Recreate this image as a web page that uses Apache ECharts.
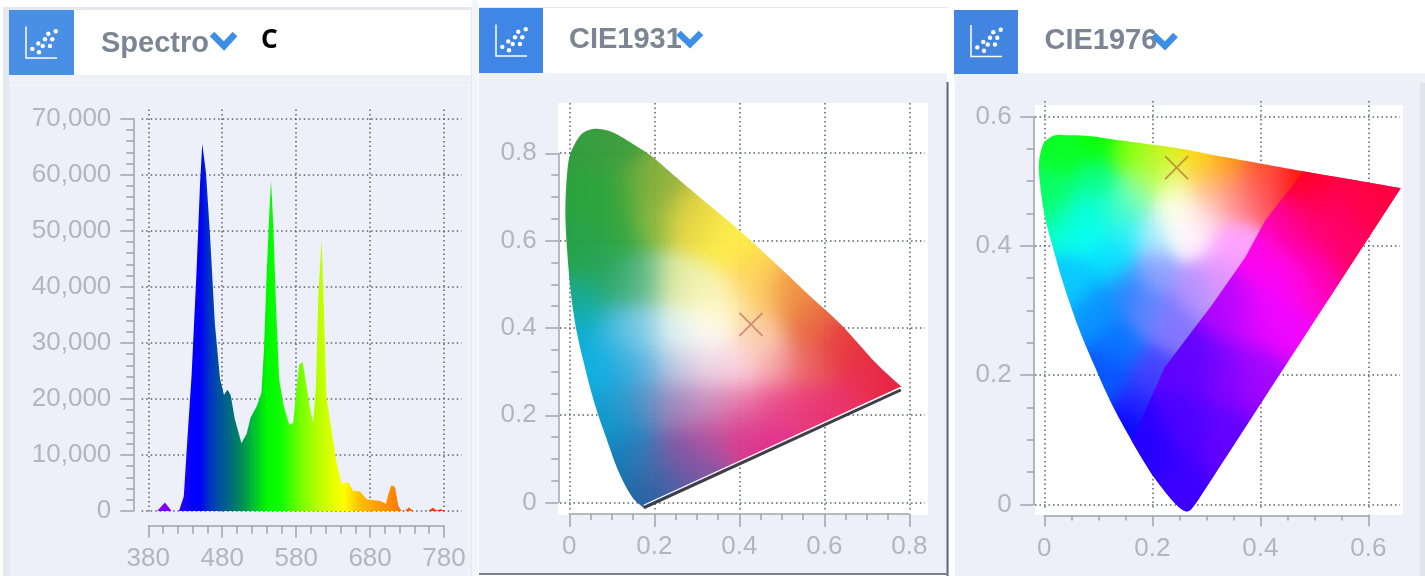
<!DOCTYPE html>
<html><head><meta charset="utf-8">
<style>html,body{margin:0;padding:0;background:#fff}#c{width:1425px;height:576px}</style>
<script src="https://cdn.jsdelivr.net/npm/echarts@6/dist/echarts.min.js"></script>
</head><body><div id="c"></div>
<script>
// ---- data ----
const spectroWavelengths = [380,392,402.5,411.5,421.5,428,433,438.6,445,450,453,458,463.5,470,477,482.4,487,491.4,497,506,513,518.4,526.6,533,536.5,540,543.7,546,549,552.7,557,562.6,570.7,576,580.7,584.3,588.8,593.3,598.7,603,606.8,610,614.5,617.7,621,628,634.8,641.5,650.6,657,666.4,675.4,693.4,701.5,704.7,709,713.7,718,722.7,727,732.7,737.6,758.8,764.7,770,775.5,780];
const spectroValues = [0,0,1500,0,0,2600,13100,24300,42000,58400,65500,60400,49200,33500,23600,20700,21650,20700,16400,12100,13800,16700,18700,21000,28900,42000,53100,59000,51200,36700,23600,19000,15400,15700,22300,26200,26600,23000,18400,15700,22300,38700,48600,35400,20300,14400,8500,4900,5100,3600,3500,2100,1800,1300,3000,4600,4300,1000,0,0,650,0,0,600,100,300,0];
const spectroTicksX = [380,480,580,680,780];
const spectroTicksY = [0,10000,20000,30000,40000,50000,60000,70000];
const spectroColours = [[380,'#8000ff'],[410,'#8000ff'],[425,'#2000ff'],[440,'#0000ff'],[450,'#0000f8'],[462,'#0030c8'],[475,'#0050a0'],[490,'#006a80'],[505,'#008858'],[520,'#00b838'],[540,'#00f800'],[560,'#10ff00'],[585,'#70ff00'],[610,'#b8ff00'],[632,'#e8ff00'],[645,'#ffff00'],[665,'#ffc000'],[690,'#ffa000'],[715,'#ff8000'],[740,'#ff5000'],[780,'#ff2000']];

const cie1931Locus = [[.174,-.011],[.147,.014],[.115,.073],[.088,.145],[.060,.225],[.037,.309],[.017,.393],[.004,.477],[-.004,.562],[-.009,.646],[-.008,.713],[-.002,.781],[.009,.814],[.029,.844],[.053,.855],[.076,.855],[.107,.846],[.147,.823],[.194,.793],[.249,.747],[.311,.696],[.398,.625],[.484,.549],[.562,.477],[.641,.406],[.719,.322],[.782,.265]];
const cie1931Edge = [[.175,-.012],[.780,.258]];
const cie1931EdgeLight = [[.175,-.006],[.780,.264]];
const cie1931Point = [[.4275,.408]];
const cie1931Shade = [[.04,.82,'#2a9838'],[.1,.82,'#369a34'],[.04,.7,'#20a032'],[.1,.7,'#24a032'],[.17,.72,'#64a834'],[.22,.72,'#96b034'],[.29,.66,'#d6c838'],[.2,.645,'#8cb838'],[.12,.62,'#26a234'],[.288,.645,'#e8d83c'],[.33,.63,'#f6e440'],[.358,.62,'#ffee42'],[.38,.6,'#ffee40'],[.02,.6,'#1c9f42'],[.06,.56,'#1ca04c'],[.249,.51,'#e0eaa0'],[.17,.51,'#5fb88a'],[.115,.51,'#25a565'],[.03,.46,'#0ca788'],[.03,.39,'#00aad8'],[.115,.393,'#3cb8e0'],[.17,.393,'#8ed0e8'],[.249,.393,'#e8f6f0'],[.327,.393,'#fffdf4'],[.374,.46,'#fff8c0'],[.31,.49,'#f8f4b0'],[.42,.53,'#fdd64a'],[.445,.477,'#fcc458'],[.52,.47,'#f0903a'],[.562,.41,'#e8643a'],[.64,.35,'#e63236'],[.72,.3,'#e72036'],[.77,.265,'#e6183a'],[.562,.31,'#e95c58'],[.484,.31,'#f5a4a4'],[.45,.39,'#fbd0a8'],[.405,.31,'#fdd8e0'],[.327,.31,'#f0d4e4'],[.249,.31,'#c0c8e4'],[.17,.31,'#5ab0dc'],[.115,.31,'#10a8e0'],[.05,.3,'#00aee0'],[.405,.225,'#e874a4'],[.484,.225,'#e84084'],[.562,.225,'#e83074'],[.68,.26,'#e82856'],[.63,.2,'#e82a68'],[.327,.225,'#c888bc'],[.249,.225,'#9a80b8'],[.17,.225,'#5a88c0'],[.115,.225,'#0f98d0'],[.08,.18,'#0098cc'],[.249,.115,'#8050a0'],[.327,.14,'#b8489a'],[.405,.157,'#d83088'],[.48,.14,'#e02886'],[.17,.098,'#3a70b0'],[.131,.14,'#0a80c0'],[.12,.08,'#0070b0'],[.165,.02,'#1a5aa0'],[.22,.05,'#385aa0'],[.3,.08,'#7050a0']];

const cie1976Locus = [[.660,.489],[.600,.498],[.495,.513],[.402,.527],[.310,.541],[.248,.551],[.186,.558],[.125,.565],[.081,.570],[.044,.571],[.020,.571],[.001,.561],[-.007,.544],[-.010,.524],[-.008,.496],[.001,.445],[.017,.394],[.035,.342],[.063,.274],[.094,.212],[.125,.155],[.162,.098],[.199,.047],[.236,.007],[.257,-.009],[.270,-.009],[.285,.007]];
const cie1976Purples = [[.162,.098],[.223,.212],[.31,.308],[.372,.382],[.409,.439],[.48,.515],[.600,.498],[.660,.489],[.285,.007],[.270,-.009],[.257,-.009],[.236,.007],[.199,.047]];
const cie1976Point = [[.245,.521]];
const cie1976Shade = [[.03,.55,'#00ff20'],[.1,.56,'#00ff00'],[.16,.545,'#80ff00'],[.22,.54,'#d0f000'],[.28,.535,'#ffd800'],[.34,.525,'#ffa000'],[.4,.515,'#ff5000'],[.46,.505,'#ff1000'],[.02,.48,'#00ff60'],[.05,.44,'#00ffc0'],[.07,.42,'#00ffff'],[.1,.45,'#00ffe0'],[.1,.5,'#00ff80'],[.06,.35,'#00c8ff'],[.1,.3,'#0090ff'],[.14,.25,'#0070ff'],[.12,.2,'#0050ff'],[.16,.12,'#0000ff'],[.16,.33,'#2080ff'],[.13,.38,'#00e0ff'],[.15,.42,'#20f0ff'],[.14,.46,'#40ffc0'],[.19,.3,'#6080ff'],[.2,.36,'#90a0ff'],[.2,.42,'#b0f0ff'],[.17,.48,'#90ffa0'],[.2,.52,'#b0ff40'],[.24,.5,'#f0ff90'],[.245,.46,'#ffffe0'],[.25,.44,'#ffffff'],[.28,.42,'#fff0ff'],[.3,.46,'#ffd0d0'],[.3,.5,'#ffc060'],[.34,.48,'#ff9090'],[.38,.49,'#ff7080'],[.42,.5,'#ff4060'],[.34,.4,'#ffa0ff'],[.32,.35,'#e090ff'],[.28,.33,'#b090ff'],[.24,.28,'#8070ff'],[.2,.2,'#4040ff'],[.18,.16,'#2020ff']];
const cie1976PurpleShade = [[.2,.08,'#2800ff'],[.25,.03,'#4000ff'],[.27,.12,'#5000ff'],[.33,.1,'#6800ff'],[.28,.22,'#6000ff'],[.33,.2,'#8000ff'],[.39,.2,'#a000ff'],[.34,.3,'#b000ff'],[.39,.3,'#e000ff'],[.44,.28,'#f000ff'],[.44,.34,'#ff00ff'],[.41,.38,'#ff00f0'],[.49,.35,'#ff00c0'],[.45,.42,'#ff00a0'],[.5,.44,'#ff0080'],[.56,.41,'#ff0070'],[.52,.48,'#ff0050'],[.6,.46,'#ff0050'],[.49,.505,'#ff0020'],[.63,.48,'#ff0040']];

const cie1931Ticks = [0,.2,.4,.6,.8];
const cie1976Ticks = [0,.2,.4,.6];
const titles = ['Spectro','CIE1931','CIE1976'];
const marker = 'C';

// ---- styles ----
const AXIS = '#9ea3ae', LABEL = '#b1b5bf', DOT = '#5a606c', FONT = '"Liberation Sans", Arial, sans-serif';

function hex(c){return [1,3,5].map(i=>parseInt(c.substr(i,2),16));}
function gamut(shade, b, sigma){
  const [x0,x1,y0,y1]=b, n = 140, cv = document.createElement('canvas'); cv.width = n; cv.height = n;
  const ctx = cv.getContext('2d'), im = ctx.createImageData(n,n);
  const s = shade.map(a=>[a[0],a[1],hex(a[2])]);
  const q = 2*sigma*sigma;
  for(let j=0;j<n;j++) for(let i=0;i<n;i++){
    const x = x0+(i+.5)/n*(x1-x0), y = y1-(j+.5)/n*(y1-y0);
    let w=1e-40,r=0,g=0,bl=0;
    for(const a of s){
      const k=Math.exp(-((x-a[0])*(x-a[0])+(y-a[1])*(y-a[1]))/q);
      w+=k;r+=k*a[2][0];g+=k*a[2][1];bl+=k*a[2][2];
    }
    const o=(j*n+i)*4; im.data[o]=r/w;im.data[o+1]=g/w;im.data[o+2]=bl/w;im.data[o+3]=255;
  }
  ctx.putImageData(im,0,0);
  return {cv,x0,x1,y0,y1};
}
// rounds the drawn outline of the clip only; the read points stay as they are
function rounded(pts){
  const out=[];
  for(let i=0;i<pts.length-1;i++){
    const p0=pts[Math.max(i-1,0)],p1=pts[i],p2=pts[i+1],p3=pts[Math.min(i+2,pts.length-1)];
    for(let k=0;k<8;k++){
      const t=k/8,t2=t*t,t3=t2*t;
      out.push([0,1].map(d=>.5*(2*p1[d]+(p2[d]-p0[d])*t+(2*p0[d]-5*p1[d]+4*p2[d]-p3[d])*t2+(3*p1[d]-p0[d]-3*p2[d]+p3[d])*t3)));
    }
  }
  out.push(pts[pts.length-1]);
  return out;
}
function gamutSeries(locus, shade, b, sigma, idx, op, smooth, z){
  const g = gamut(shade,b,sigma);
  return {type:'custom',xAxisIndex:idx,yAxisIndex:idx,data:locus,z:z||2,silent:true,
    renderItem(params,api){
      if(params.dataIndex!==0) return null;
      const a=api.coord([g.x0,g.y1]), c=api.coord([g.x1,g.y0]);
      const outline=(smooth?rounded(locus):locus).map(p=>api.coord(p));
      return {type:'image',style:{image:g.cv,x:a[0],y:a[1],width:c[0]-a[0],height:c[1]-a[1],opacity:op},
        clipPath:{type:'polygon',shape:{points:outline}}};
    }};
}
function mainX(i,cfg){return Object.assign({type:'value',gridIndex:i,position:'bottom',axisLine:{show:true,onZero:false,lineStyle:{color:AXIS,width:1.5}},
  axisTick:{show:true,length:cfg.maj,lineStyle:{color:AXIS,width:1.5}},minorTick:{show:true,splitNumber:cfg.minorN,length:cfg.min,lineStyle:{color:AXIS,width:1.5}},
  splitLine:{show:false},minorSplitLine:{show:false},
  axisLabel:{color:LABEL,fontSize:26,fontFamily:FONT,margin:cfg.margin,verticalAlign:'top',hideOverlap:false,showMinLabel:true,showMaxLabel:true,formatter:cfg.fmt}},cfg.ext);}
function mainY(i,cfg){return Object.assign({type:'value',gridIndex:i,position:'left',axisLine:{show:true,onZero:false,lineStyle:{color:AXIS,width:1.5}},
  axisTick:{show:true,length:cfg.maj,lineStyle:{color:AXIS,width:1.5}},minorTick:{show:true,splitNumber:cfg.minorN,length:cfg.min,lineStyle:{color:AXIS,width:1.5}},
  splitLine:{show:false},minorSplitLine:{show:false},
  axisLabel:{color:LABEL,fontSize:26,fontFamily:FONT,margin:cfg.margin,padding:[4,0,0,0],hideOverlap:false,showMinLabel:true,showMaxLabel:true,formatter:cfg.fmt}},cfg.ext);}
function overlay(kind,i,min,max,vals){return {type:'value',gridIndex:i,min,max,position:kind==='x'?'bottom':'left',
  axisLine:{show:false},axisLabel:{show:false,customValues:vals},axisTick:{show:false,customValues:vals},
  splitLine:{show:true,showMinLine:true,showMaxLine:true,lineStyle:{type:[1.5,3],color:DOT,width:1.5}}};}
function num(v){return v===0?'0':String(+v.toFixed(1));}

const grid = [
 {left:148.3,top:118.7,width:295.7,height:392.3},
 {left:141.7,top:109.6,width:320,height:403.4},
 {left:569.3,top:153.3,width:340,height:349.3},
 {left:560,top:103,width:365,height:408},
 {left:1044.3,top:116.5,width:324,height:387.9},
 {left:1035,top:101,width:365,height:408}
];
const spectroShift = spectroTicksX[0];
const spectroSpan = spectroTicksX[spectroTicksX.length-1]-spectroShift;

const xAxis = [
 mainX(0,{maj:12,min:8,minorN:5,margin:20.5,fmt:v=>String(v+spectroShift),ext:{min:0,max:spectroSpan,interval:100,offset:14.7}}),
 overlay('x',1,-8.9,423.9,spectroTicksX.map(v=>v-spectroShift)),
 mainX(2,{maj:13,min:6,minorN:4,margin:19.5,fmt:num,ext:{min:0,max:.8,interval:.2,offset:11.4}}),
 overlay('x',3,-.022,.837,cie1931Ticks),
 mainX(4,{maj:11,min:5,minorN:4,margin:20.5,fmt:num,ext:{min:0,max:.6,interval:.2,offset:11}}),
 overlay('x',5,-.0172,.6587,cie1976Ticks)
];
const yAxis = [
 mainY(0,{maj:13,min:7,minorN:5,margin:22,fmt:v=>v.toLocaleString('en-US'),ext:{min:0,max:70000,interval:10000,offset:15}}),
 overlay('y',1,-357,71626,spectroTicksY),
 mainY(2,{maj:13,min:7,minorN:4,margin:21.6,fmt:num,ext:{min:0,max:.8,interval:.2,offset:11}}),
 overlay('y',3,-.0195,.915,cie1931Ticks),
 mainY(4,{maj:13.5,min:7,minorN:4,margin:22,fmt:num,ext:{min:0,max:.6,interval:.2,offset:10.6}}),
 overlay('y',5,-.0071,.624,cie1976Ticks)
];

const cross = (data,idx,col)=>({type:'scatter',xAxisIndex:idx,yAxisIndex:idx,data,symbol:'path://M0 0L10 10M10 0L0 10',symbolSize:23,z:5,silent:true,clip:false,
  itemStyle:{color:'none',borderColor:col,borderWidth:1.8}});
const stub = (data,idx)=>({type:'line',xAxisIndex:idx,yAxisIndex:idx,data,showSymbol:false,symbol:'none',clip:false,silent:true,z:1,lineStyle:{color:AXIS,width:1.5}});

const series = [
 {type:'line',xAxisIndex:0,yAxisIndex:0,data:spectroWavelengths.map((w,i)=>[w-spectroShift,spectroValues[i]]),showSymbol:false,symbol:'none',silent:true,z:2,
  lineStyle:{width:0},
  areaStyle:{opacity:1,color:new echarts.graphic.LinearGradient(0,0,1,0,spectroColours.map(c=>({offset:(c[0]-spectroShift)/spectroSpan,color:c[1]})))}},
 gamutSeries(cie1931Locus,cie1931Shade,[-.03,.8,-.03,.88],.04,2,.95,true),
 {type:'line',xAxisIndex:2,yAxisIndex:2,data:cie1931Edge,showSymbol:false,symbol:'none',clip:false,silent:true,z:3,lineStyle:{color:'#3c3f48',width:3}},
 {type:'line',xAxisIndex:2,yAxisIndex:2,data:cie1931EdgeLight,showSymbol:false,symbol:'none',clip:false,silent:true,z:3,lineStyle:{color:'#fff',width:1.2}},
 cross(cie1931Point,2,'#c9746e'),
 stub([[-.0259,.8],[-.0259,.85],[-.0424,.85],[-.0259,.85],[-.0259,.9]],2),
 gamutSeries(cie1976Locus,cie1976Shade,[-.03,.68,-.03,.6],.025,4,.96,true),
 gamutSeries(cie1976Purples,cie1976PurpleShade,[.1,.68,-.03,.6],.03,4,.96,false,3),
 cross(cie1976Point,4,'#b5803a'),
 stub([[.6,-.017],[.649,-.017]],4)
];

// ---- page furniture ----
const R=(x,y,w,h,fill)=>({type:'rect',shape:{x,y,width:w,height:h},style:{fill},z:-10,silent:true});
const T=(x,y,text,font,fill)=>({type:'text',style:{x,y,text,font,fill,textVerticalAlign:'middle'},z:-5,silent:true});
const V=(pts)=>({type:'polyline',shape:{points:pts},style:{stroke:'#3d8ee6',fill:'none',lineWidth:6.5},z:-5,silent:true});
function icon(ox,oy){
  const dots=[[46.7,21.3],[39.3,23.8],[36,29.3],[43.3,29.3],[29.3,33.4],[33.7,36],[41,36],[23.3,38.9],[30,42.2]];
  return [{type:'polyline',shape:{points:[[ox+17,oy+16.5],[ox+17,oy+48],[ox+48,oy+48]]},style:{stroke:'#fff',fill:'none',lineWidth:1.5},z:-5,silent:true}]
   .concat(dots.map(d=>({type:'circle',shape:{cx:ox+d[0],cy:oy+d[1],r:2.2},style:{fill:'#fff'},z:-5,silent:true})));
}
const BOLD='bold 29px "Liberation Sans", Arial, sans-serif', TITLE='#7b8594';
const elements=[
 R(0,0,1425,576,'#ffffff'),
 // panel 1
 R(3,7,469,569,'#e3e8f3'),R(74,10,397,65,'#ffffff'),R(9,10,65,65,'#4a8fe6'),R(9,75,462,10,'#eef1f8'),R(10,85,461,1,'#f7f8fc'),R(10,86,461,490,'#edf0f8'),
 R(472,0,6,576,'#f3f5fb'),
 // panel 2
 R(479,7,469,1,'#e3e8f3'),R(543,8,404,65,'#ffffff'),R(479,8,64,65,'#3f86e6'),R(479,73,468,9,'#eef1f8'),R(479,82,467,491,'#edf0f8'),
 R(558,103,370,412,'#ffffff'),R(946.5,82,2,494,'#5c6270'),R(479,573,469,2,'#7a808c'),
 // panel 3
 R(954,73,471,10,'#eef1f8'),R(1018,9,407,64,'#ffffff'),R(954,10,64,64,'#4285e0'),R(955,83,465,493,'#edf0f8'),R(1420,83,5,493,'#dfe3ea'),
 R(1035,105,368,410,'#ffffff'),
 // titles
 T(101,44,titles[0],BOLD,TITLE),T(569,40,titles[1],BOLD,TITLE),T(1044.5,41,titles[2],BOLD,TITLE),
 T(261,41,marker,'bold 26px "Noto Sans", sans-serif','#000000'),
 V([[212,34],[224,46],[235,34]]),V([[678.5,33],[690,44],[701,33]]),V([[1153.5,35],[1165,46],[1175.5,35]])
].concat(icon(9,10),icon(479,8),icon(954,8.5));

const chart = echarts.init(document.getElementById('c'),null,{renderer:'canvas'});
chart.setOption({animation:false,backgroundColor:'#fff',tooltip:{show:false},grid,xAxis,yAxis,series,graphic:{elements}});
</script></body></html>
